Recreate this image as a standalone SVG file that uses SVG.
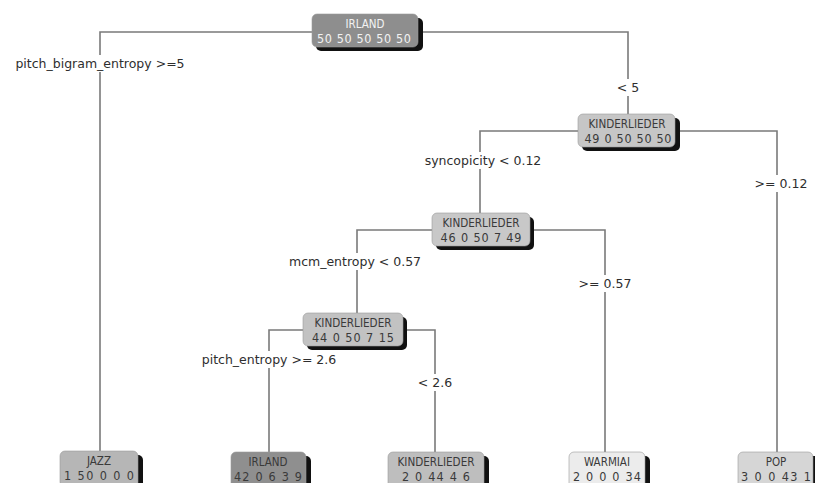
<svg xmlns="http://www.w3.org/2000/svg" width="815" height="483" viewBox="0 0 815 483">
<style>
.bg{fill:#ffffff}
.edge{fill:none;stroke:#7a7a7a;stroke-width:1.6}
.shadow{fill:#111111}
.box{stroke:#9a9a9a;stroke-width:0.6}
.nt{font-family:"DejaVu Sans Condensed","DejaVu Sans","Liberation Sans",sans-serif;font-size:11.5px;text-anchor:middle;fill:#3a3a3a}
.nn{font-size:12.5px}
.nt.light{fill:#f2f2f2}
.lbl{font-family:"DejaVu Sans","Liberation Sans",sans-serif;font-size:12.5px;text-anchor:middle;fill:#2e2e2e}
.lblbg{fill:#ffffff}
</style>
<rect class="bg" x="0" y="0" width="815" height="483"/>
<g id="connectors">
  <polyline class="edge" points="312,32 100,32 100,452"/>
  <polyline class="edge" points="418,32 628,32 628,114"/>
  <polyline class="edge" points="578,131 480,131 480,213"/>
  <polyline class="edge" points="675,131 777,131 777,452"/>
  <polyline class="edge" points="432,230 357,230 357,313"/>
  <polyline class="edge" points="530,230 605,230 605,452"/>
  <polyline class="edge" points="303,330 269,330 269,452"/>
  <polyline class="edge" points="403,330 435,330 435,452"/>
  <g id="edge-labels">
    <rect class="lblbg" x="12" y="55" width="178" height="17"/>
    <text class="lbl" x="100" y="68">pitch_bigram_entropy &gt;=5</text>
    <rect class="lblbg" x="612" y="79" width="32" height="17"/>
    <text class="lbl" x="628" y="92">&lt; 5</text>
    <rect class="lblbg" x="423" y="152" width="121" height="17"/>
    <text class="lbl" x="483" y="165">syncopicity &lt; 0.12</text>
    <rect class="lblbg" x="753" y="175" width="56" height="17"/>
    <text class="lbl" x="781" y="188">&gt;= 0.12</text>
    <rect class="lblbg" x="286" y="253" width="138" height="17"/>
    <text class="lbl" x="355" y="266">mcm_entropy &lt; 0.57</text>
    <rect class="lblbg" x="577" y="275" width="56" height="17"/>
    <text class="lbl" x="605" y="288">&gt;= 0.57</text>
    <rect class="lblbg" x="199" y="351" width="140" height="17"/>
    <text class="lbl" x="269" y="364">pitch_entropy &gt;= 2.6</text>
    <rect class="lblbg" x="415" y="374" width="40" height="17"/>
    <text class="lbl" x="435" y="387">&lt; 2.6</text>
  </g>
</g>
<g id="node-root">
  <rect class="shadow" x="316" y="18" width="107" height="33" rx="5"/>
  <rect class="box" x="312" y="14" width="106" height="33" rx="5" fill="#8e8e8e"/>
  <text class="nt light" x="365" y="28">IRLAND</text>
  <text class="nt nn light" x="364" y="43" textLength="94" lengthAdjust="spacing">50 50 50 50 50</text>
</g>
<g id="node-kinder1">
  <rect class="shadow" x="582" y="118" width="98" height="33" rx="5"/>
  <rect class="box" x="578" y="114" width="97" height="33" rx="5" fill="#c6c6c6"/>
  <text class="nt" x="627" y="128" textLength="77" lengthAdjust="spacingAndGlyphs">KINDERLIEDER</text>
  <text class="nt nn" x="628" y="143" textLength="87" lengthAdjust="spacing">49 0 50 50 50</text>
</g>
<g id="node-kinder2">
  <rect class="shadow" x="436" y="217" width="98" height="33" rx="5"/>
  <rect class="box" x="432" y="213" width="98" height="33" rx="5" fill="#c8c8c8"/>
  <text class="nt" x="481" y="227" textLength="77" lengthAdjust="spacingAndGlyphs">KINDERLIEDER</text>
  <text class="nt nn" x="481" y="242" textLength="81" lengthAdjust="spacing">46 0 50  7 49</text>
</g>
<g id="node-kinder3">
  <rect class="shadow" x="307" y="317" width="100" height="33" rx="5"/>
  <rect class="box" x="303" y="313" width="100" height="33" rx="5" fill="#c2c2c2"/>
  <text class="nt" x="353" y="327" textLength="77" lengthAdjust="spacingAndGlyphs">KINDERLIEDER</text>
  <text class="nt nn" x="353" y="342" textLength="82" lengthAdjust="spacing">44 0 50  7 15</text>
</g>
<g id="leaf-jazz">
  <rect class="shadow" x="64" y="455" width="79" height="36" rx="5"/>
  <rect class="box" x="60" y="451" width="78" height="36" rx="5" fill="#b6b6b6"/>
  <text class="nt" x="99" y="465">JAZZ</text>
  <text class="nt nn" x="99" y="480" textLength="70" lengthAdjust="spacing">1 50 0 0 0</text>
</g>
<g id="leaf-irland">
  <rect class="shadow" x="235" y="456" width="76" height="36" rx="5"/>
  <rect class="box" x="231" y="452" width="75" height="36" rx="5" fill="#8f8f8f"/>
  <text class="nt" x="268" y="466">IRLAND</text>
  <text class="nt nn" x="268" y="481" textLength="68" lengthAdjust="spacing">42 0 6 3 9</text>
</g>
<g id="leaf-kinder">
  <rect class="shadow" x="392" y="456" width="97" height="36" rx="5"/>
  <rect class="box" x="388" y="452" width="96" height="36" rx="5" fill="#bebebe"/>
  <text class="nt" x="436" y="466" textLength="77" lengthAdjust="spacingAndGlyphs">KINDERLIEDER</text>
  <text class="nt nn" x="436" y="481" textLength="68" lengthAdjust="spacing">2 0 44 4 6</text>
</g>
<g id="leaf-warmiai">
  <rect class="shadow" x="573" y="456" width="77" height="36" rx="5"/>
  <rect class="box" x="569" y="452" width="76" height="36" rx="5" fill="#ececec"/>
  <text class="nt" x="607" y="466">WARMIAI</text>
  <text class="nt nn" x="607" y="481" textLength="68" lengthAdjust="spacing">2 0 0 0 34</text>
</g>
<g id="leaf-pop">
  <rect class="shadow" x="742" y="456" width="77" height="36" rx="5"/>
  <rect class="box" x="738" y="452" width="75" height="36" rx="5" fill="#d6d6d6"/>
  <text class="nt" x="776" y="466">POP</text>
  <text class="nt nn" x="776" y="481" textLength="70" lengthAdjust="spacing">3 0 0 43 1</text>
</g>
</svg>
